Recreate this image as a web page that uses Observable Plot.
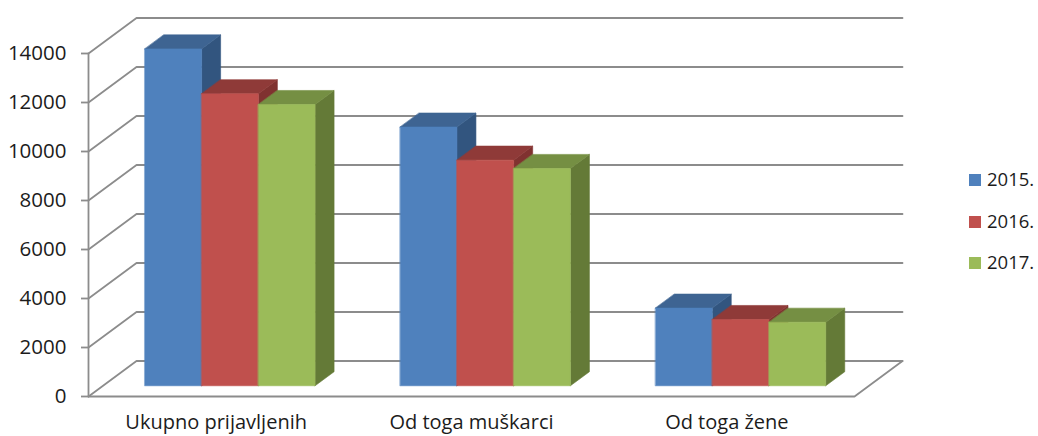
<!DOCTYPE html>
<html>
<head>
<meta charset="utf-8">
<script src="https://cdn.jsdelivr.net/npm/d3@7"></script>
<script src="https://cdn.jsdelivr.net/npm/@observablehq/plot@0.6"></script>
<style>
  html, body { margin: 0; padding: 0; background: #fff; }
  #chart { position: relative; width: 1038px; height: 436px; overflow: hidden; font-family: "Open Sans", sans-serif; }
  #legend { position: absolute; left: 969px; top: 0; color: #1c1c1c; font-size: 18.5px; }
  #legend div { position: absolute; white-space: nowrap; line-height: 20px; }
  #legend i { position: absolute; left: 0; top: 4px; width: 12px; height: 12px; }
  #legend span { position: absolute; left: 18px; top: -1px; }
</style>
</head>
<body>
<div id="chart"></div>
<script>
const categories = ["Ukupno prijavljenih", "Od toga muškarci", "Od toga žene"];
const years = ["2015.", "2016.", "2017."];
const values2015 = [13750, 10560, 3170];
const values2016 = [11920, 9210, 2705];
const values2017 = [11480, 8870, 2595];
const yTicks = [0, 2000, 4000, 6000, 8000, 10000, 12000, 14000];

const frontColors = ["#4f81bd", "#c0504d", "#9bbb59"];
const topColors = ["#3e6492", "#8f3a38", "#758f43"];
const sideColors = ["#32557f", "#803230", "#647a37"];
const gridColor = "#8c8c8c";

// Oblique projection of the chart's box: depth 0 = front plane, 1 = back wall.
const depthU = 48 / 255.33;   // horizontal shift of the back wall, in category units
const depthV = 1449;          // vertical shift of the back wall, in value units
const P = (u, v, d) => ({u: u + d * depthU, v: v + d * depthV});

const gapU = 0.164, barU = 0.2222;         // half gap and bar width per category
const dFront = 0.302, dBack = 0.698;       // bars sit in the middle of the depth

const seriesValues = [values2015, values2016, values2017];
const polys = [];
let pid = 0;
function poly(points, color) {
  const id = pid++;
  for (const p of points) polys.push({...p, id, color});
}
categories.forEach((c, ci) => {
  seriesValues.forEach((vals, si) => {
    const u0 = ci + gapU + si * barU, u1 = u0 + barU, v = vals[ci];
    poly([P(u1, 0, dFront), P(u1, 0, dBack), P(u1, v, dBack), P(u1, v, dFront)], sideColors[si]);
    poly([P(u0, v, dFront), P(u1, v, dFront), P(u1, v, dBack), P(u0, v, dBack)], topColors[si]);
    poly([P(u0, 0, dFront), P(u1, 0, dFront), P(u1, v, dFront), P(u0, v, dFront)], frontColors[si]);
  });
});

const grid = [];
let gid = 0;
function gridLine(points) {
  const id = gid++;
  for (const p of points) grid.push({...p, id});
}
const uMax = categories.length, vMax = yTicks[yTicks.length - 1];
for (const t of yTicks) gridLine([P(0, t, 0), P(0, t, 1), P(uMax, t, 1)]);
gridLine([P(0, 0, 0), P(uMax, 0, 0), P(uMax, 0, 1)]);
gridLine([P(0, 0, 0), P(0, vMax, 0)]);

const chart = Plot.plot({
  width: 1038,
  height: 436,
  marginLeft: 88,
  marginRight: 184,
  marginTop: 53,
  marginBottom: 40,
  style: {background: "#fff", overflow: "visible"},
  x: {domain: [0, uMax], axis: null},
  y: {domain: [0, vMax], axis: null},
  color: {type: "identity"},
  marks: [
    Plot.line(grid, {x: "u", y: "v", z: "id", stroke: gridColor, strokeWidth: 1.8, strokeLinejoin: "miter"}),
    Plot.line(polys, {x: "u", y: "v", z: "id", fill: "color", stroke: "color", strokeWidth: 0.6, curve: "linear-closed"}),
    Plot.axisY({
      ticks: yTicks, tickFormat: d => String(d), tickSize: 7, tickPadding: 15,
      stroke: gridColor, strokeWidth: 1.8, fill: "#1c1c1c", fontSize: 20.5,
      fontFamily: "Open Sans", label: null, marginLeft: 88
    }),
    Plot.axisX({
      ticks: categories.map((c, i) => i + 0.5),
      tickFormat: d => categories[Math.floor(d)],
      tickSize: 0, tickPadding: 18, fill: "#1c1c1c", fontSize: 20,
      fontFamily: "Open Sans", label: null, marginBottom: 40
    })
  ]
});

const root = document.getElementById("chart");
root.appendChild(chart);

const legend = document.createElement("div");
legend.id = "legend";
const legendTops = [170, 212, 253];
years.forEach((y, i) => {
  const row = document.createElement("div");
  row.style.top = legendTops[i] + "px";
  const sw = document.createElement("i");
  sw.style.background = frontColors[i];
  const label = document.createElement("span");
  label.textContent = y;
  row.append(sw, label);
  legend.appendChild(row);
});
root.appendChild(legend);
</script>
</body>
</html>
